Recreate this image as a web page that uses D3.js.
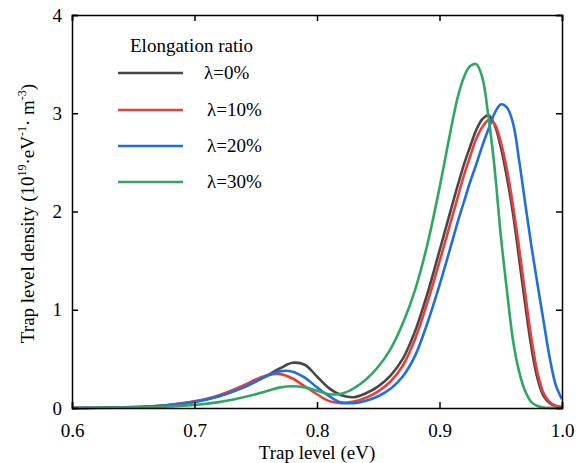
<!DOCTYPE html>
<html>
<head>
<meta charset="utf-8">
<script src="https://cdn.jsdelivr.net/npm/d3@7"></script>
<style>
  body { margin: 0; background: #fff; }
  svg text { font-family: "Liberation Serif", serif; fill: #000; }
</style>
</head>
<body>
<svg id="chart" width="576" height="463"></svg>
<script>
// trap level (eV)
const energy = [0.60, 0.62, 0.64, 0.66, 0.68, 0.70, 0.72, 0.74, 0.75, 0.76, 0.77, 0.78, 0.79,
  0.80, 0.81, 0.82, 0.83, 0.84, 0.85, 0.86, 0.87, 0.88, 0.89, 0.90, 0.91, 0.915, 0.92, 0.925,
  0.93, 0.935, 0.94, 0.945, 0.95, 0.955, 0.96, 0.965, 0.97, 0.975, 0.98, 0.985, 0.99, 0.995, 1.00];

// trap level density (1e19 eV^-1 m^-3)
const lambda0 = [0.000, 0.002, 0.005, 0.012, 0.030, 0.065, 0.120, 0.210, 0.270, 0.335, 0.405, 0.460, 0.440,
  0.320, 0.200, 0.130, 0.110, 0.150, 0.220, 0.330, 0.500, 0.780, 1.160, 1.600, 2.050, 2.270, 2.480, 2.660,
  2.830, 2.940, 2.980, 2.880, 2.660, 2.350, 1.980, 1.520, 1.050, 0.620, 0.300, 0.120, 0.050, 0.020, 0.010];

const lambda10 = [0.000, 0.002, 0.006, 0.014, 0.033, 0.068, 0.130, 0.230, 0.290, 0.335, 0.345, 0.300, 0.220,
  0.140, 0.070, 0.050, 0.065, 0.105, 0.170, 0.270, 0.430, 0.700, 1.070, 1.490, 1.930, 2.150, 2.370, 2.560,
  2.740, 2.860, 2.930, 2.890, 2.710, 2.430, 2.060, 1.630, 1.160, 0.710, 0.360, 0.150, 0.060, 0.020, 0.010];

const lambda20 = [0.000, 0.002, 0.005, 0.012, 0.030, 0.062, 0.120, 0.210, 0.270, 0.330, 0.375, 0.370, 0.310,
  0.210, 0.120, 0.055, 0.050, 0.075, 0.120, 0.195, 0.320, 0.530, 0.860, 1.250, 1.680, 1.900, 2.100, 2.300,
  2.480, 2.670, 2.840, 3.000, 3.090, 3.060, 2.900, 2.520, 2.080, 1.650, 1.260, 0.880, 0.510, 0.230, 0.090];

const lambda30 = [0.000, 0.001, 0.003, 0.007, 0.015, 0.030, 0.060, 0.110, 0.140, 0.175, 0.210, 0.222, 0.210,
  0.175, 0.140, 0.145, 0.200, 0.290, 0.420, 0.600, 0.860, 1.200, 1.660, 2.240, 2.880, 3.170, 3.370, 3.480,
  3.500, 3.360, 2.960, 2.440, 1.760, 1.200, 0.690, 0.370, 0.170, 0.060, 0.020, 0.005, 0.001, 0.000, 0.000];

const seriesNames = ["\u03bb=0%", "\u03bb=10%", "\u03bb=20%", "\u03bb=30%"];
const seriesColors = ["#474747", "#ec3c3c", "#1f6ee3", "#2ea763"];
const xTicks = [0.6, 0.7, 0.8, 0.9, 1.0];
const yTicks = [0, 1, 2, 3, 4];

const series = [lambda0, lambda10, lambda20, lambda30];

const svg = d3.select("#chart");
const margin = {left: 72, right: 562, top: 15, bottom: 408};

const x = d3.scaleLinear()
    .domain([0.6, 1.0])
    .range([margin.left, margin.right]);

const y = d3.scaleLinear()
    .domain([0, 4])
    .range([margin.bottom, margin.top]);

// curves
const line = d3.line()
    .x((d, i) => x(energy[i]))
    .y(d => y(Math.max(0, d)))
    .curve(d3.curveCatmullRom.alpha(0.5));

svg.append("g")
  .selectAll("path")
  .data(series)
  .join("path")
    .attr("fill", "none")
    .attr("stroke", (d, i) => seriesColors[i])
    .attr("stroke-width", 2.6)
    .attr("d", line);

// axes, ticks inward on all four sides
svg.append("g")
    .attr("transform", "translate(0," + margin.bottom + ")")
    .call(d3.axisBottom(x).tickValues(xTicks).tickSize(-6).tickPadding(16).tickFormat(d3.format(".1f")));

svg.append("g")
    .attr("transform", "translate(0," + margin.top + ")")
    .call(d3.axisTop(x).tickValues(xTicks).tickSize(-6).tickFormat(""));

svg.append("g")
    .attr("transform", "translate(" + margin.left + ",0)")
    .call(d3.axisLeft(y).tickValues(yTicks).tickSize(-6).tickPadding(10).tickFormat(d3.format("d")));

svg.append("g")
    .attr("transform", "translate(" + margin.right + ",0)")
    .call(d3.axisRight(y).tickValues(yTicks).tickSize(-6).tickFormat(""));

svg.selectAll("g")
    .attr("font-family", null);

svg.selectAll(".domain, .tick line")
    .attr("stroke", "#000")
    .attr("stroke-width", 1.5);

svg.selectAll(".tick text")
    .attr("font-size", 19);

// axis titles
svg.append("text")
    .attr("x", (margin.left + margin.right) / 2)
    .attr("y", 459)
    .attr("text-anchor", "middle")
    .attr("font-size", 19)
    .text("Trap level (eV)");

const ylab = svg.append("text")
    .attr("transform", "translate(34," + ((margin.top + margin.bottom) / 2 + 2) + ") rotate(-90)")
    .attr("text-anchor", "middle")
    .attr("font-size", 19);

ylab.append("tspan").text("Trap level density (10");
ylab.append("tspan").attr("font-size", 12).attr("dy", -8).text("19");
ylab.append("tspan").attr("dy", 8).text("\u00b7eV");
ylab.append("tspan").attr("font-size", 12).attr("dy", -8).text("-1");
ylab.append("tspan").attr("dy", 8).text("\u00b7 m");
ylab.append("tspan").attr("font-size", 12).attr("dy", -8).text("-3");
ylab.append("tspan").attr("dy", 8).text(")");

// legend
const legend = svg.append("g");

legend.append("text")
    .attr("x", 130)
    .attr("y", 52)
    .attr("font-size", 19)
    .text("Elongation ratio");

const legendY = [73, 110, 146, 182];

const item = legend.selectAll("g.item")
  .data(seriesNames)
  .join("g")
    .attr("class", "item")
    .attr("transform", (d, i) => "translate(0," + legendY[i] + ")");

item.append("line")
    .attr("x1", 118)
    .attr("x2", 183)
    .attr("stroke", (d, i) => seriesColors[i])
    .attr("stroke-width", 2.6);

item.append("text")
    .attr("x", (d, i) => i === 0 ? 204 : 207)
    .attr("y", 6)
    .attr("font-size", 19)
    .text(d => d);
</script>
</body>
</html>
